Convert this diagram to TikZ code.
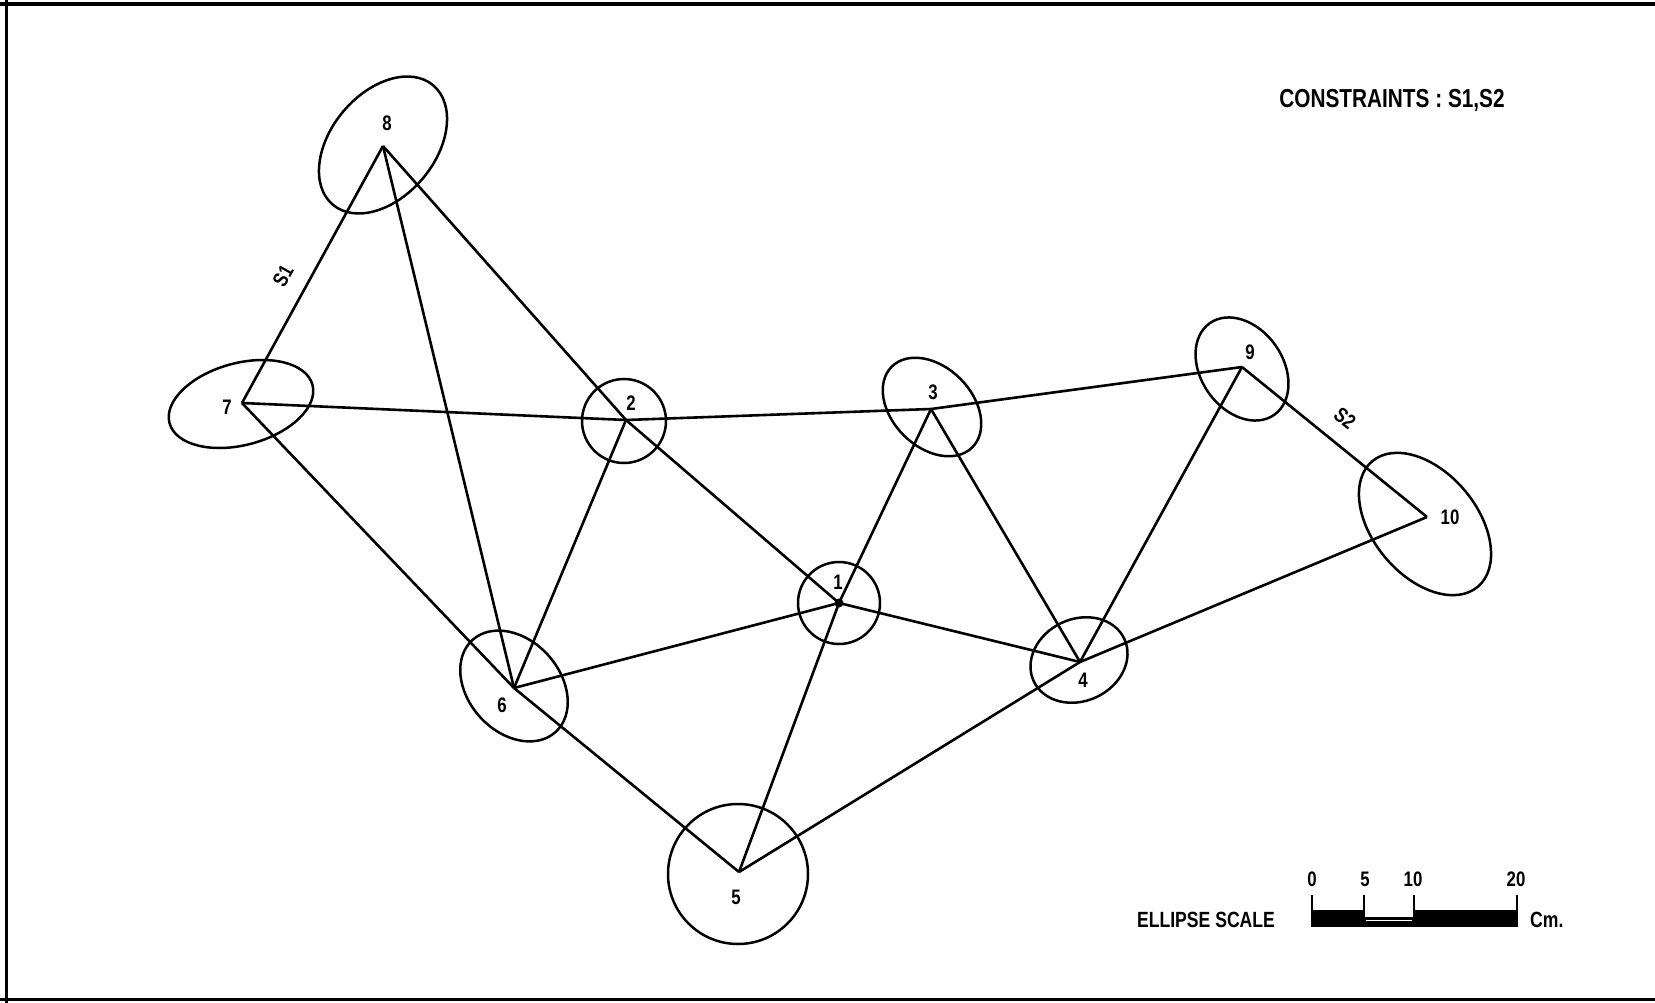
\documentclass[tikz,border=0pt]{standalone}
\usepackage{fontspec}
\setmainfont{Liberation Sans}[FakeStretch=0.8]
\begin{document}
\begin{tikzpicture}[x=1pt,y=-1pt,
  edge/.style={line width=2.6pt, line join=miter},
  errell/.style={line width=2.5pt},
  lbl/.style={font=\bfseries\fontsize{21}{21}\selectfont, inner sep=0pt},
  txt/.style={font=\bfseries\fontsize{22}{22}\selectfont, inner sep=0pt}]
\useasboundingbox (0,0) rectangle (1655,1003);
\fill[white] (0,0) rectangle (1655,1003);
% frame
\draw[line width=4pt] (0,4) -- (1655,4);
\draw[line width=3pt] (6,0) -- (6,1003);
\draw[line width=3pt] (0,999) -- (1655,999);
% station points
\coordinate (p1) at (839,603);
\coordinate (p2) at (626,420);
\coordinate (p3) at (931,409);
\coordinate (p4) at (1080,662);
\coordinate (p5) at (739,872);
\coordinate (p6) at (514,688);
\coordinate (p7) at (242,403);
\coordinate (p8) at (383,146);
\coordinate (p9) at (1242,367);
\coordinate (p10) at (1427,517);
% error ellipses
\draw[errell] (p1) circle[radius=41pt];
\draw[errell] (624,421) circle[radius=42pt];
\draw[errell, rotate around={-45:(932,407)}] (932,407) ellipse[x radius=57pt, y radius=40pt];
\draw[errell, rotate around={25:(1079,660)}] (1079,660) ellipse[x radius=50pt, y radius=41pt];
\draw[errell] (738,874) circle[radius=70pt];
\draw[errell, rotate around={-48:(514,686)}] (514,686) ellipse[x radius=62pt, y radius=46pt];
\draw[errell, rotate around={15:(241,404)}] (241,404) ellipse[x radius=74pt, y radius=41pt];
\draw[errell, rotate around={50:(383,145)}] (383,145) ellipse[x radius=78pt, y radius=52pt];
\draw[errell, rotate around={-55:(1242,369)}] (1242,369) ellipse[x radius=56pt, y radius=41pt];
\draw[errell, rotate around={-50:(1425,524)}] (1425,524) ellipse[x radius=82pt, y radius=52pt];
% network lines
\draw[edge] (p7) -- (p8);
\draw[edge] (p8) -- (p6);
\draw[edge] (p8) -- (p2);
\draw[edge] (p7) -- (p2);
\draw[edge] (p7) -- (p6);
\draw[edge] (p2) -- (p3);
\draw[edge] (p3) -- (p9);
\draw[edge] (p9) -- (p10);
\draw[edge] (p2) -- (p6);
\draw[edge] (p2) -- (p1);
\draw[edge] (p6) -- (p1);
\draw[edge] (p6) -- (p5);
\draw[edge] (p5) -- (p1);
\draw[edge] (p1) -- (p3);
\draw[edge] (p1) -- (p4);
\draw[edge] (p3) -- (p4);
\draw[edge] (p5) -- (p4);
\draw[edge] (p4) -- (p9);
\draw[edge] (p4) -- (p10);
\fill (p1) circle[radius=4.5pt];
% station labels
\node[lbl] (l1) at (838,582) {1};
\node[lbl] (l2) at (631,403) {2};
\node[lbl] (l3) at (933,392) {3};
\node[lbl] (l4) at (1083,680) {4};
\node[lbl] (l5) at (736,897) {5};
\node[lbl] (l6) at (502,705) {6};
\node[lbl] (l7) at (227,407) {7};
\node[lbl] (l8) at (387,123) {8};
\node[lbl] (l9) at (1250,352) {9};
\node[lbl] (l10) at (1450,517) {10};
% constraint labels
\node[lbl, rotate=61] (s1) at (283,276) {S1};
\node[lbl, rotate=-39] (s2) at (1345,418) {S2};
% title
\node[font=\bfseries\fontsize{26}{26}\selectfont, inner sep=0pt] (title) at (1392,100) {CONSTRAINTS : S1,S2};
% ellipse scale
\node[txt] (es) at (1206,920) {ELLIPSE SCALE};
\draw[line width=2.5pt] (1312,895) -- (1312,927);
\draw[line width=2.5pt] (1364,895) -- (1364,927);
\draw[line width=2.5pt] (1414,895) -- (1414,927);
\draw[line width=2.5pt] (1517,895) -- (1517,927);
\fill (1312,910) rectangle (1364,927);
\fill (1364,917) rectangle (1414,927);
\draw[white, line width=1pt] (1366,920.5) -- (1412,920.5);
\fill (1414,910) rectangle (1517,927);
\node[lbl] (n0) at (1312,879) {0};
\node[lbl] (n5) at (1365,879) {5};
\node[lbl] (n10) at (1413,879) {10};
\node[lbl] (n20) at (1516,879) {20};
\node[txt, anchor=west] (cm) at (1530,920) {Cm.};
\end{tikzpicture}
\end{document}
